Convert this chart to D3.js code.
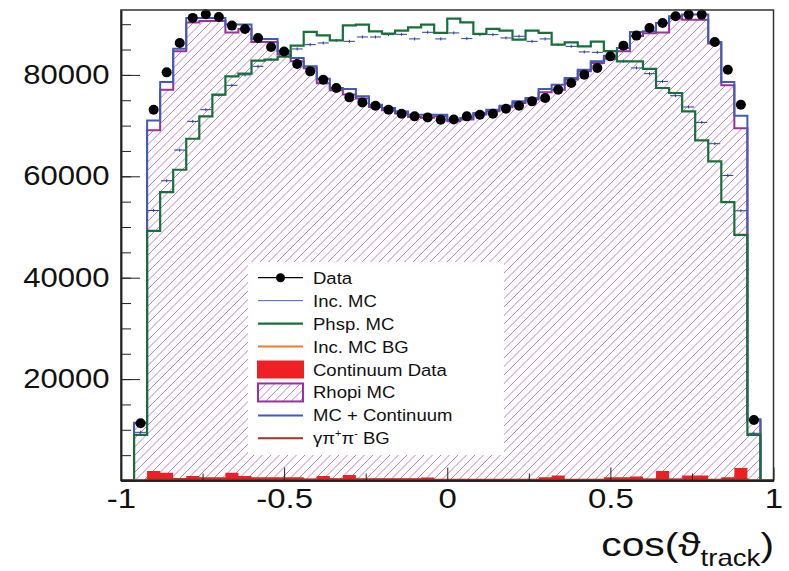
<!DOCTYPE html>
<meta charset="utf-8">
<style>
body { margin: 0; background: #fff; }
svg { font-family: "Liberation Sans", Arial, Helvetica, sans-serif; }
.axis text { font-size: 27px; fill: #111; }
.axis path, .axis line { stroke: #222; }
.legend-text { font-size: 17px; fill: #111; }
.hatch line { stroke: #b566c3; stroke-width: 0.85; }
</style>
<body>
<script src="https://d3js.org/d3.v7.min.js"></script>
<script>
var w = 789, h = 571;

// 50 bins of width 0.04 on cos(theta) in [-1, 1]
var binEdges = d3.range(51).map(function(i){ return -1 + 0.04*i; });

var dataVals = [
  0, 11290, 73140, 80500, 86300, 91240, 91950, 91430, 89720, 89070,
  87290, 85510, 84600, 82160, 80700, 79060, 77420, 75570, 74580, 73930,
  73140, 72350, 71820, 71620, 71160, 71200, 71820, 72150, 72350, 73340,
  73930, 74780, 75440, 77090, 78410, 80050, 81370, 83660, 85770, 87750,
  89260, 90250, 91560, 91890, 91890, 86500, 81030, 74120, 11940, 0];

var incMC = [
  0, 9500, 53260, 59120, 65180, 70830, 73140, 76000, 77940, 80000,
  81690, 83000, 84500, 85120, 85970, 86300, 86800, 86620, 87480, 87480,
  87940, 88000, 87100, 88400, 87100, 88280, 87160, 87940, 87940, 87290,
  87620, 86620, 87100, 85970, 85630, 84530, 84450, 83500, 82700, 81370,
  80240, 78720, 75900, 73670, 70630, 66430, 60170, 53200, 9310, 0];
var incMCErr = 300;

var phspMC = [
  0, 9000, 49250, 56890, 61290, 67410, 71820, 76100, 79710, 80240,
  82810, 83010, 83600, 85770, 88470, 87810, 86820, 89780, 89920, 88600,
  88140, 88730, 89380, 89920, 88280, 91100, 90370, 88080, 89070, 88730,
  86950, 88730, 88280, 85970, 86420, 85630, 86560, 84700, 82670, 82670,
  81170, 77420, 76430, 72800, 67080, 62930, 54920, 48460, 8980, 0];

var incMCBG = [
  0, 20, 90, 80, 70, 70, 70, 70, 60, 60,
  60, 60, 60, 60, 60, 60, 60, 60, 60, 60,
  60, 60, 60, 60, 60, 60, 60, 60, 60, 60,
  60, 60, 60, 60, 60, 60, 60, 60, 60, 60,
  60, 70, 70, 70, 70, 80, 80, 90, 20, 0];

var continuum = [
  0, 0, 1880, 1540, 500, 890, 630, 630, 1540, 890,
  630, 630, 630, 630, 400, 890, 430, 1090, 430, 430,
  430, 430, 430, 600, 300, 300, 300, 300, 300, 300,
  300, 300, 630, 1000, 300, 300, 300, 630, 630, 800,
  400, 1880, 400, 1000, 1000, 300, 630, 2470, 0, 0];

var rhopiMC = [
  0, 11300, 69100, 77050, 84680, 90350, 90610, 90610, 88380, 89030,
  86470, 86470, 84070, 82710, 81290, 78370, 76990, 76130, 75340, 73690,
  73040, 72370, 71720, 71550, 71850, 70860, 71200, 72190, 72840, 73630,
  74480, 75140, 76590, 77070, 79100, 80730, 82370, 83170, 84680, 87670,
  88200, 88370, 91160, 90890, 90890, 86200, 77970, 69480, 11900, 0];

var mcCont = [
  0, 11410, 71025, 78600, 85180, 91240, 91240, 91240, 89920, 89920,
  87100, 87100, 84700, 83340, 81690, 79260, 77420, 77220, 75770, 74120,
  73470, 72800, 72150, 72150, 72150, 71160, 71500, 72490, 73140, 73930,
  74780, 75440, 77220, 78070, 79400, 81030, 82670, 83800, 85310, 88470,
  88600, 90250, 91560, 91890, 91890, 86500, 78600, 71950, 12080, 0];

var gppBG = [
  0, 60, 200, 180, 160, 150, 150, 150, 140, 140,
  130, 130, 130, 130, 130, 130, 130, 130, 130, 130,
  130, 130, 130, 130, 130, 130, 130, 130, 130, 130,
  130, 130, 130, 130, 130, 130, 130, 130, 130, 130,
  140, 140, 150, 150, 150, 160, 180, 200, 60, 0];

var xTicksMajor = [-1, -0.5, 0, 0.5, 1];
var xTicksMinor = [-0.75, -0.25, 0.25, 0.75];
var yTicksMajor = [20000, 40000, 60000, 80000];
var yTicksMinor = d3.range(5000, 92000, 5000);

var legendLabels = ["Data", "Inc. MC", "Phsp. MC", "Inc. MC BG", "Continuum Data", "Rhopi MC", "MC + Continuum", "BG"];

var colData = "#000", colInc = "#4a66b8", colIncErr = "#2a3f96", colPhsp = "#17703a",
    colIncBG = "#f2782a", colCont = "#ee2024", colRho = "#9a2f9e",
    colMC = "#3f5cb8", colBG = "#a3321e";

var svg = d3.select("body").append("svg")
    .attr("width", w)
    .attr("height", h);

var x = d3.scaleLinear().domain([-1, 1]).range([121, 773.5]);
var y = d3.scaleLinear().domain([0, 92800]).range([480.5, 10]);

var defs = svg.append("defs");

function stepPts(vals) {
  var pts = vals.map(function(v, i){ return [binEdges[i], v]; });
  pts.push([binEdges[50], vals[49]]);
  return pts;
}

var stepLine = d3.line()
    .x(function(d){ return x(d[0]); })
    .y(function(d){ return y(d[1]); })
    .curve(d3.curveStepAfter);

var stepArea = d3.area()
    .x(function(d){ return x(d[0]); })
    .y0(y(0))
    .y1(function(d){ return y(d[1]); })
    .curve(d3.curveStepAfter);

// diagonal "/" hatching clipped to a region
function hatch(parent, clipId, bx, by, bw, bh) {
  var g = parent.append("g").attr("class", "hatch").attr("clip-path", "url(#" + clipId + ")");
  for (var k = -bh; k < bw + 9; k += 8.5) {
    g.append("line")
      .attr("x1", bx + k).attr("y1", by + bh)
      .attr("x2", bx + k + bh).attr("y2", by);
  }
}

defs.append("clipPath").attr("id", "rhoClip")
  .append("path").attr("d", stepArea(stepPts(rhopiMC)));
hatch(svg, "rhoClip", 121, 10, 653, 471);

// continuum data (red filled)
svg.append("path")
    .attr("d", stepArea(stepPts(continuum)))
    .attr("fill", colCont);

// Rhopi outline
svg.append("path")
    .attr("d", stepLine(stepPts(rhopiMC)))
    .attr("fill", "none")
    .attr("stroke", colRho)
    .attr("stroke-width", 2);

// MC + continuum
svg.append("path")
    .attr("d", stepLine(stepPts(mcCont)))
    .attr("fill", "none")
    .attr("stroke", colMC)
    .attr("stroke-width", 2);

// Inc. MC crosses
var incG = svg.append("g").attr("stroke", colIncErr).attr("stroke-width", 1);
incMC.forEach(function(v, i){
  if (v <= 0) return;
  var xl = x(binEdges[i]) + 1, xr = x(binEdges[i+1]) - 1, xc = (x(binEdges[i]) + x(binEdges[i+1]))/2;
  incG.append("line").attr("x1", xl).attr("x2", xr).attr("y1", y(v)).attr("y2", y(v));
  incG.append("line").attr("x1", xc).attr("x2", xc).attr("y1", y(v - incMCErr)).attr("y2", y(v + incMCErr));
});

// Phsp MC
svg.append("path")
    .attr("d", stepLine(stepPts(phspMC)))
    .attr("fill", "none")
    .attr("stroke", colPhsp)
    .attr("stroke-width", 2.2);

// Inc MC BG and gamma pi pi BG
svg.append("path")
    .attr("d", stepLine(stepPts(incMCBG)))
    .attr("fill", "none")
    .attr("stroke", colIncBG)
    .attr("stroke-width", 1.5);
svg.append("path")
    .attr("d", stepLine(stepPts(gppBG)))
    .attr("fill", "none")
    .attr("stroke", colBG)
    .attr("stroke-width", 2);

// data points
svg.append("g")
  .selectAll("circle")
  .data(dataVals.map(function(v, i){ return {v: v, c: (binEdges[i] + binEdges[i+1])/2}; })
        .filter(function(d){ return d.v > 0; }))
  .enter().append("circle")
    .attr("cx", function(d){ return x(d.c); })
    .attr("cy", function(d){ return y(d.v); })
    .attr("r", 5)
    .attr("fill", colData);

// frame
svg.append("rect")
    .attr("x", 121).attr("y", 10)
    .attr("width", 773.5 - 121).attr("height", 480.5 - 10)
    .attr("fill", "none")
    .attr("stroke", "#333")
    .attr("stroke-width", 1.5);

// axes, ticks pointing into the frame
var yAxis = svg.append("g").attr("class", "axis")
    .attr("transform", "translate(121,0)")
    .call(d3.axisLeft(y).tickValues(yTicksMajor).tickSize(-19).tickSizeOuter(0).tickPadding(10)
          .tickFormat(function(d){ return String(d); }));
yAxis.selectAll("text").attr("transform", "scale(1.15,1)").attr("font-size", "28px");
svg.append("g").attr("class", "axis")
    .attr("transform", "translate(121,0)")
    .call(d3.axisLeft(y).tickValues(yTicksMinor).tickSize(-10).tickSizeOuter(0).tickFormat(""));

var xAxis = svg.append("g").attr("class", "axis")
    .attr("transform", "translate(0,480.5)")
    .call(d3.axisBottom(x).tickValues(xTicksMajor).tickSize(-13).tickSizeOuter(0).tickPadding(8)
          .tickFormat(function(d){ return String(d); }));
xAxis.selectAll("text").attr("transform", "scale(1.22,1)").attr("font-size", "28px");
svg.append("g").attr("class", "axis")
    .attr("transform", "translate(0,480.5)")
    .call(d3.axisBottom(x).tickValues(xTicksMinor).tickSize(-7).tickSizeOuter(0).tickFormat(""));

svg.selectAll(".axis .domain").attr("stroke-width", 1.5);

// axis title
var title = svg.append("text")
    .attr("transform", "translate(774,556) scale(1.2,1)")
    .attr("text-anchor", "end")
    .attr("font-size", "34px")
    .attr("fill", "#111");
title.append("tspan").text("cos(\u03D1");
title.append("tspan").attr("font-size", "23px").attr("dy", 10).text("track");
title.append("tspan").attr("dy", -10).text(")");

// legend
var lg = svg.append("g");
lg.append("rect").attr("x", 248).attr("y", 262).attr("width", 256).attr("height", 193).attr("fill", "#fff");
var rowY = function(i){ return 277.7 + i*22.95; };
var sx0 = 258, sx1 = 303;

function legLine(i, col, wdt) {
  lg.append("line").attr("x1", sx0).attr("x2", sx1).attr("y1", rowY(i)).attr("y2", rowY(i))
    .attr("stroke", col).attr("stroke-width", wdt);
}
legLine(0, colData, 1.2);
lg.append("circle").attr("cx", (sx0 + sx1)/2).attr("cy", rowY(0)).attr("r", 4.5).attr("fill", colData);
legLine(1, colInc, 1);
legLine(2, colPhsp, 2.2);
legLine(3, colIncBG, 2);
lg.append("rect").attr("x", sx0 - 1).attr("y", rowY(4) - 9).attr("width", sx1 - sx0 + 2).attr("height", 18)
  .attr("fill", colCont);
defs.append("clipPath").attr("id", "legClip")
  .append("rect").attr("x", sx0).attr("y", rowY(5) - 9).attr("width", sx1 - sx0).attr("height", 18);
hatch(lg, "legClip", sx0, rowY(5) - 9, sx1 - sx0, 18);
lg.append("rect").attr("x", sx0).attr("y", rowY(5) - 9).attr("width", sx1 - sx0).attr("height", 18)
  .attr("fill", "none").attr("stroke", colRho).attr("stroke-width", 2);
legLine(6, colMC, 2);
legLine(7, colBG, 2);

legendLabels.forEach(function(t, i){
  var tx = lg.append("text").attr("class", "legend-text")
      .attr("transform", "translate(313," + (rowY(i) + 6) + ") scale(1.09,1)");
  if (i < 7) { tx.text(t); return; }
  tx.append("tspan").text("\u03B3\u03C0");
  tx.append("tspan").attr("font-size", "10px").attr("dy", -7).text("+");
  tx.append("tspan").attr("dy", 7).text("\u03C0");
  tx.append("tspan").attr("font-size", "10px").attr("dy", -7).text("-");
  tx.append("tspan").attr("dy", 7).text(" " + t);
});
</script>
</body>
